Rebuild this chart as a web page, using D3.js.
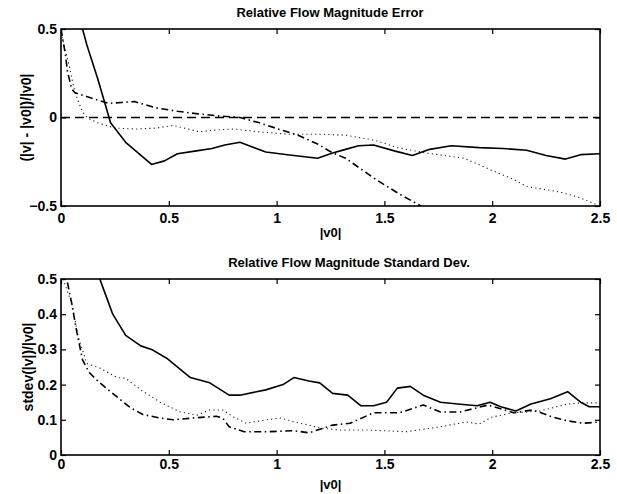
<!DOCTYPE html>
<html>
<head>
<meta charset="utf-8">
<script src="https://cdn.jsdelivr.net/npm/d3@7"></script>
<style>
  body { margin: 0; background: #fff; }
  svg { display: block; font-family: "Liberation Sans", Arial, sans-serif; font-weight: bold; }
  .tick text { font-size: 14px; fill: #000; }
  .tick line { stroke: #000; stroke-width: 1.2; }
</style>
</head>
<body>
<div id="chart"></div>
<script>
(function () {
  const xTicks = [0, 0.5, 1, 1.5, 2, 2.5];
  const errTicks = [-0.5, 0, 0.5];
  const stdTicks = [0, 0.1, 0.2, 0.3, 0.4, 0.5];

  // top panel: relative magnitude error
  const errSolid = [[0.10,0.50],[0.12,0.41],[0.17,0.22],[0.23,-0.03],[0.30,-0.14],[0.42,-0.265],[0.48,-0.245],[0.54,-0.205],[0.62,-0.19],[0.70,-0.175],[0.76,-0.155],[0.83,-0.14],[0.95,-0.195],[1.05,-0.21],[1.19,-0.23],[1.26,-0.20],[1.32,-0.18],[1.38,-0.16],[1.45,-0.155],[1.55,-0.19],[1.63,-0.215],[1.71,-0.18],[1.81,-0.16],[1.94,-0.17],[2.05,-0.175],[2.16,-0.185],[2.25,-0.215],[2.34,-0.235],[2.41,-0.21],[2.50,-0.205]];
  const errDotted = [[0.0,0.48],[0.02,0.38],[0.04,0.28],[0.065,0.14],[0.10,0.03],[0.125,-0.005],[0.17,-0.03],[0.25,-0.06],[0.35,-0.065],[0.44,-0.06],[0.52,-0.045],[0.64,-0.08],[0.72,-0.07],[0.80,-0.065],[0.91,-0.08],[1.06,-0.095],[1.22,-0.095],[1.32,-0.10],[1.46,-0.13],[1.56,-0.17],[1.69,-0.20],[1.87,-0.23],[2.00,-0.30],[2.10,-0.35],[2.16,-0.39],[2.31,-0.42],[2.40,-0.45],[2.50,-0.50]];
  const errDashDot = [[0.0,0.50],[0.02,0.36],[0.03,0.26],[0.05,0.16],[0.065,0.14],[0.14,0.11],[0.22,0.08],[0.28,0.085],[0.34,0.09],[0.44,0.055],[0.54,0.035],[0.64,0.02],[0.72,0.01],[0.83,0.0],[0.92,-0.03],[1.02,-0.07],[1.10,-0.10],[1.19,-0.15],[1.26,-0.20],[1.32,-0.23],[1.46,-0.35],[1.58,-0.44],[1.67,-0.50]];
  const errZero = [[0, 0], [2.5, 0]];

  // bottom panel: relative magnitude standard deviation
  const stdSolid = [[0.18,0.50],[0.21,0.45],[0.24,0.40],[0.30,0.34],[0.37,0.31],[0.42,0.30],[0.49,0.275],[0.60,0.22],[0.69,0.205],[0.78,0.17],[0.83,0.17],[0.95,0.185],[1.03,0.20],[1.08,0.22],[1.15,0.21],[1.20,0.205],[1.26,0.175],[1.33,0.17],[1.39,0.14],[1.45,0.14],[1.51,0.15],[1.56,0.19],[1.62,0.195],[1.68,0.17],[1.76,0.15],[1.84,0.145],[1.93,0.14],[1.99,0.15],[2.04,0.137],[2.11,0.125],[2.18,0.145],[2.27,0.16],[2.35,0.18],[2.41,0.15],[2.45,0.137],[2.50,0.137]];
  const stdDashDot = [[0.03,0.49],[0.05,0.43],[0.07,0.36],[0.10,0.27],[0.13,0.235],[0.18,0.205],[0.26,0.165],[0.32,0.135],[0.38,0.115],[0.46,0.105],[0.52,0.10],[0.61,0.105],[0.72,0.11],[0.75,0.105],[0.78,0.08],[0.85,0.066],[0.95,0.066],[1.08,0.069],[1.15,0.063],[1.26,0.085],[1.34,0.09],[1.45,0.12],[1.57,0.12],[1.68,0.142],[1.76,0.122],[1.85,0.122],[1.98,0.142],[2.10,0.12],[2.19,0.128],[2.28,0.108],[2.35,0.097],[2.42,0.09],[2.50,0.094]];
  const stdDotted = [[0.01,0.50],[0.05,0.43],[0.08,0.335],[0.12,0.26],[0.18,0.247],[0.26,0.22],[0.30,0.218],[0.37,0.185],[0.46,0.15],[0.55,0.123],[0.63,0.113],[0.69,0.128],[0.75,0.128],[0.80,0.108],[0.86,0.09],[0.95,0.10],[1.02,0.105],[1.08,0.094],[1.15,0.085],[1.20,0.077],[1.29,0.071],[1.42,0.071],[1.60,0.066],[1.76,0.08],[1.88,0.094],[1.94,0.088],[2.00,0.108],[2.10,0.12],[2.22,0.125],[2.35,0.145],[2.42,0.148],[2.50,0.148]];

  const styles = {
    solid:   { dash: null,          width: 1.6, color: "#000" },
    dashed:  { dash: "9,5",         width: 1.6, color: "#000" },
    dashdot: { dash: "7,3.5,1.5,3.5", width: 1.6, color: "#000" },
    dotted:  { dash: "1.2,3.2",     width: 1.1, color: "#222" }
  };

  const width = 617, height = 494;
  const svg = d3.select("#chart").append("svg")
    .attr("width", width)
    .attr("height", height);

  drawPanel({
    id: "err", left: 61, top: 29, w: 539, h: 177,
    yDomain: [-0.5, 0.5], yTicks: errTicks, xPad: 7,
    title: "Relative Flow Magnitude Error", titleX: 330, titleY: 17,
    yLabel: "(|v| - |v0|)/|v0|", yLabelX: 26, xLabelY: 232,
    series: [[errZero, "dashed"], [errDotted, "dotted"], [errDashDot, "dashdot"], [errSolid, "solid"]]
  });

  drawPanel({
    id: "std", left: 61, top: 279, w: 539, h: 176,
    yDomain: [0, 0.5], yTicks: stdTicks, xPad: 4,
    title: "Relative Flow Magnitude Standard Dev.", titleX: 349, titleY: 267,
    yLabel: "stdev(|v|)/|v0|", yLabelX: 28, xLabelY: 484,
    series: [[stdDotted, "dotted"], [stdDashDot, "dashdot"], [stdSolid, "solid"]]
  });

  function drawPanel(p) {
    const x = d3.scaleLinear().domain([0, 2.5]).range([0, p.w]);
    const y = d3.scaleLinear().domain(p.yDomain).range([p.h, 0]);
    const fmt = d => d3.format("")(+d.toFixed(2));

    const g = svg.append("g").attr("transform", `translate(${p.left},${p.top})`);

    g.append("clipPath").attr("id", "clip-" + p.id)
      .append("rect").attr("width", p.w).attr("height", p.h);

    const line = d3.line().x(d => x(d[0])).y(d => y(d[1]));

    g.append("g").attr("clip-path", `url(#clip-${p.id})`)
      .selectAll("path")
      .data(p.series)
      .join("path")
      .attr("d", d => line(d[0]))
      .attr("fill", "none")
      .attr("stroke", d => styles[d[1]].color)
      .attr("stroke-width", d => styles[d[1]].width)
      .attr("stroke-dasharray", d => styles[d[1]].dash)
      .attr("stroke-linejoin", "round");

    g.append("g")
      .attr("transform", `translate(0,${p.h})`)
      .call(d3.axisBottom(x).tickValues(xTicks).tickFormat(fmt).tickSizeInner(-5).tickSizeOuter(0).tickPadding(p.xPad))
      .call(a => a.select(".domain").remove());

    g.append("g")
      .call(d3.axisTop(x).tickValues(xTicks).tickFormat("").tickSizeInner(-5).tickSizeOuter(0))
      .call(a => a.select(".domain").remove());

    g.append("g")
      .call(d3.axisLeft(y).tickValues(p.yTicks).tickFormat(fmt).tickSizeInner(-5).tickSizeOuter(0).tickPadding(4))
      .call(a => a.select(".domain").remove());

    g.append("g")
      .attr("transform", `translate(${p.w},0)`)
      .call(d3.axisRight(y).tickValues(p.yTicks).tickFormat("").tickSizeInner(-5).tickSizeOuter(0))
      .call(a => a.select(".domain").remove());

    g.selectAll(".tick text").attr("font-family", null).attr("font-size", null);

    g.append("rect")
      .attr("width", p.w)
      .attr("height", p.h)
      .attr("fill", "none")
      .attr("stroke", "#000")
      .attr("stroke-width", 1.6);

    svg.append("text")
      .attr("x", p.titleX)
      .attr("y", p.titleY)
      .attr("text-anchor", "middle")
      .attr("font-size", 13)
      .text(p.title);

    svg.append("text")
      .attr("x", p.left + p.w / 2)
      .attr("y", p.xLabelY)
      .attr("text-anchor", "middle")
      .attr("dominant-baseline", "central")
      .attr("font-size", 13)
      .text("|v0|");

    svg.append("text")
      .attr("transform", `translate(${p.yLabelX},${p.top + p.h / 2}) rotate(-90)`)
      .attr("text-anchor", "middle")
      .attr("dominant-baseline", "central")
      .attr("font-size", 14)
      .text(p.yLabel);
  }
})();
</script>
</body>
</html>
